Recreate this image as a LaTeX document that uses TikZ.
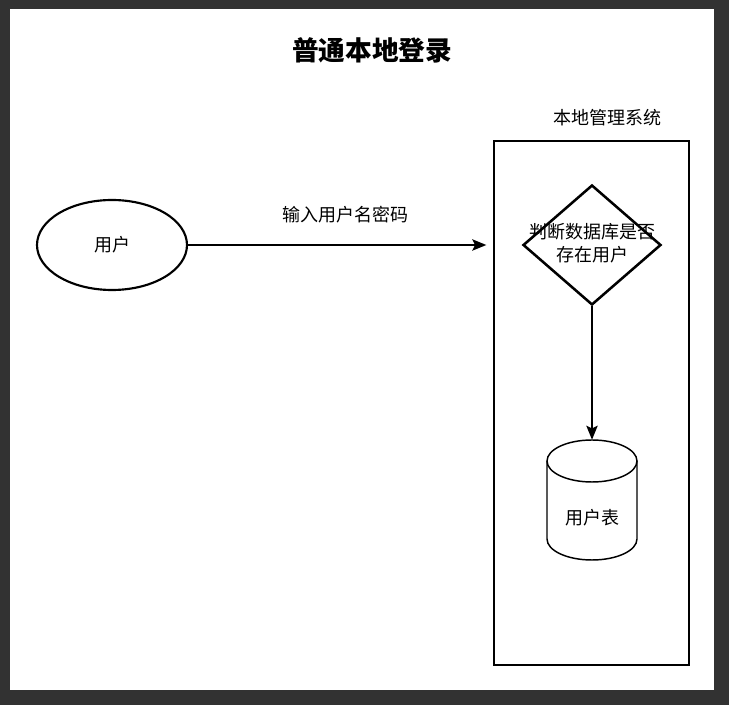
\documentclass[tikz,border=0pt]{standalone}
\usepackage{fontspec}
\setmainfont{Noto Sans CJK SC}
\usetikzlibrary{shapes.geometric,arrows.meta}
\definecolor{frame}{RGB}{50,50,50}
\tikzset{
  lbl/.style={font=\fontsize{13.5}{16}\selectfont, inner sep=0pt, align=center},
  flow/.style={draw=black, line width=1.1pt, -{Stealth[length=10.5pt,width=8.5pt,inset=2pt]}},
}
\begin{document}
\begin{tikzpicture}[x=0.75pt,y=-0.75pt]
\useasboundingbox (0,0) rectangle (729,705);
\fill[frame] (0,0) rectangle (729,705);
\fill[white] (10,9) rectangle (714,690);
\node[font=\fontsize{20}{24}\selectfont\bfseries, inner sep=0pt] (title) at (372,50) {普通本地登录};
\node[ellipse, draw, line width=1.6pt, minimum width=112.5pt, minimum height=67.5pt, lbl] (user) at (112,245) {用户};
\node[draw, line width=1pt, minimum width=146.25pt, minimum height=393pt, inner sep=0pt] (sys) at (591.5,403) {};
\node[lbl] (syslbl) at (607,118) {本地管理系统};
\node[diamond, draw, line width=1.9pt, minimum width=103.5pt, minimum height=90pt, inner sep=0pt] (judge) at (592,245) {};
\node[lbl, font=\fontsize{13.5}{17}\selectfont] (judgetxt) at (592,243) {判断数据库是否\\存在用户};
\node[minimum width=67.5pt, minimum height=90pt, inner sep=0pt] (tbl) at (592,500) {};
\draw[line width=1.1pt] (592,461) ellipse [x radius=33.75pt, y radius=15.75pt];
\draw[line width=1.1pt] (547,461) -- (547,539) arc[start angle=180, end angle=360, x radius=33.75pt, y radius=15.75pt] -- (637,461);
\node[lbl] (tbltxt) at (592,518) {用户表};
\draw[flow, shorten >=5.25pt] (user.east) -- (user.east -| sys.west);
\node[lbl] (arrlbl) at (345,215) {输入用户名密码};
\draw[flow] (judge.south) -- (tbl.north);
\end{tikzpicture}
\end{document}
